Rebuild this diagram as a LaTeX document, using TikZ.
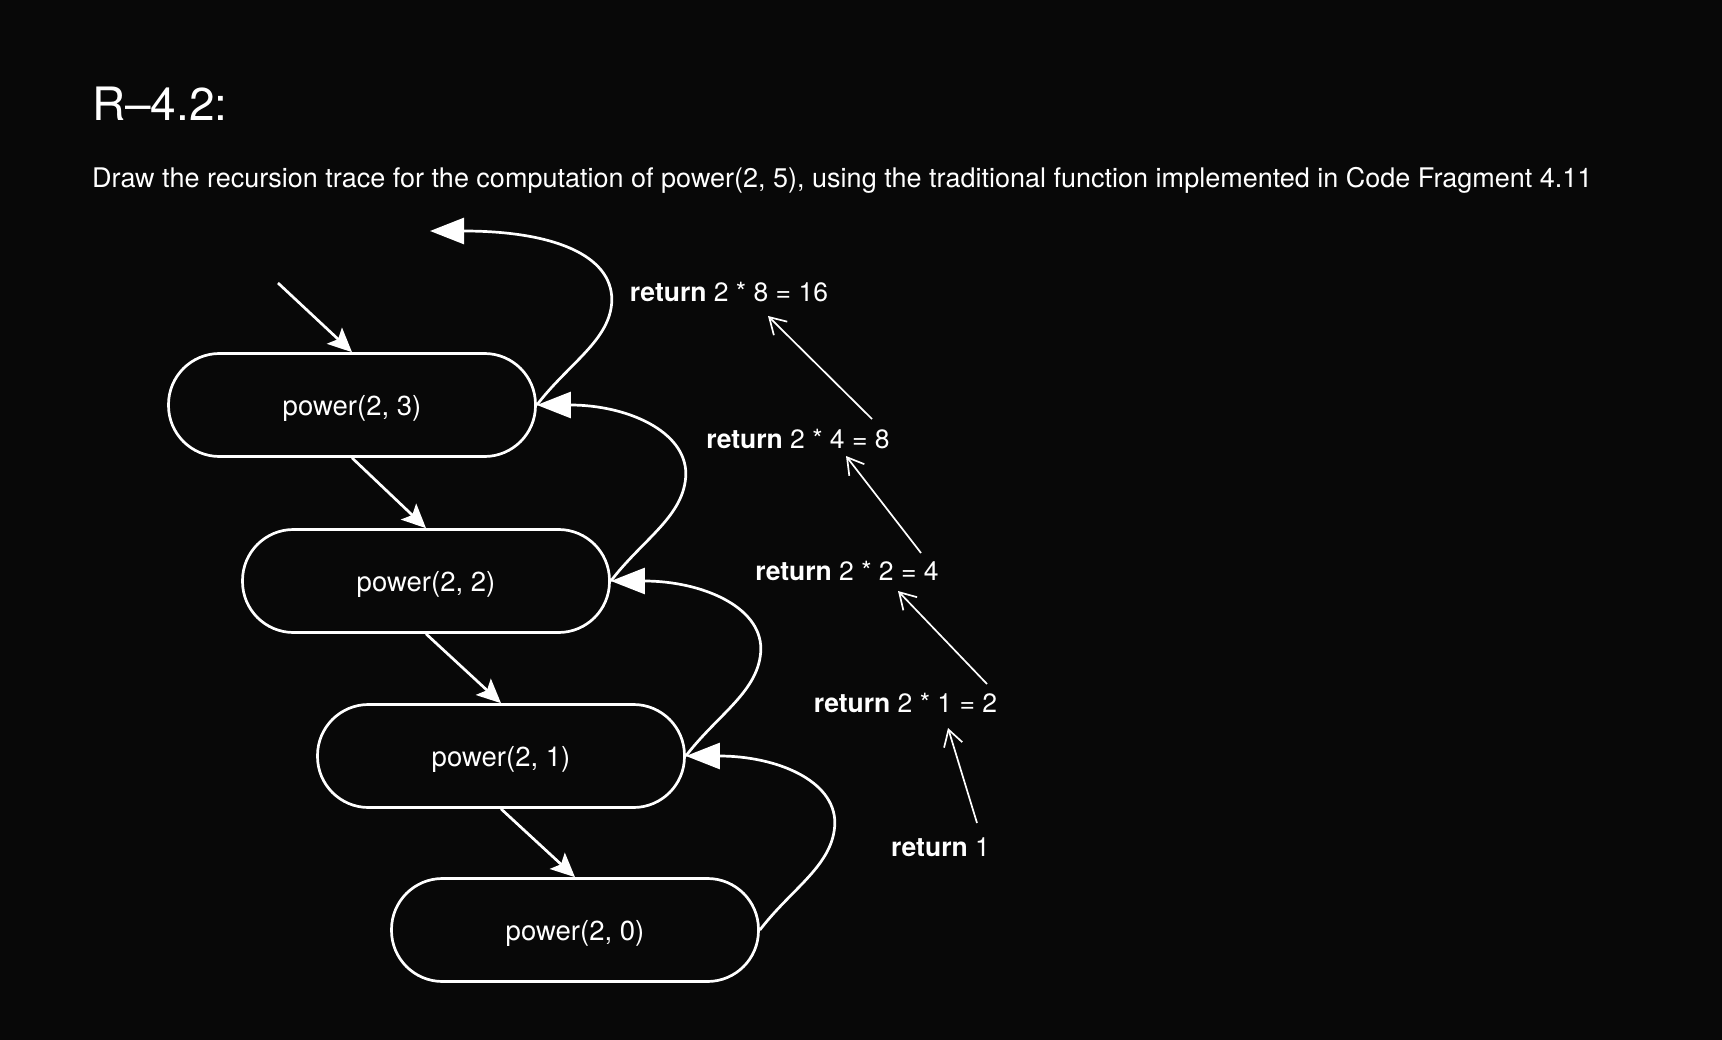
\documentclass[tikz,border=0pt]{standalone}
\usepackage{fontspec}
\setmainfont{TeX Gyre Heros}
\usetikzlibrary{arrows.meta,calc}
\definecolor{bg}{RGB}{8,8,8}
\tikzset{
  callbox/.style={draw=white, line width=2.7pt, rounded corners=51pt,
    minimum width=367pt, minimum height=103pt, text=white, inner sep=0pt,
    text depth=0pt, font=\fontsize{27.5}{31}\selectfont},
  callarrow/.style={draw=white, line width=2.7pt,
    -{Stealth[length=24pt,width=22pt,inset=5pt]}},
  retarrow/.style={draw=white, line width=2.7pt,
    -{Triangle[length=34pt,width=26pt,fill=white]}},
  thinarrow/.style={draw=white, line width=1.7pt,
    -{Straight Barb[length=16pt,width=19pt]}},
  retlabel/.style={text=white, anchor=base, inner sep=0pt,
    font=\fontsize{26.5}{30}\selectfont},
}
\begin{document}
\begin{tikzpicture}[x=1pt,y=-1pt]
\fill[bg] (0,0) rectangle (1722,1040);
\useasboundingbox (0,0) rectangle (1722,1040);

\node[text=white, anchor=base west, inner sep=0pt, font=\fontsize{46}{50}\selectfont] (title) at (92,121) {R–4.2:};
\node[text=white, anchor=base west, inner sep=0pt, font=\fontsize{27}{31}\selectfont] (sub) at (92,188)
  {Draw the recursion trace for the computation of power(2, 5), using the traditional function implemented in Code Fragment 4.11};

\node[callbox] (p3) at (352,405) {power(2, 3)};
\node[callbox] (p2) at (426,581) {power(2, 2)};
\node[callbox] (p1) at (501,756) {power(2, 1)};
\node[callbox] (p0) at (575,930) {power(2, 0)};

\coordinate (start) at (278,283);
\coordinate (topend) at (430,231);

\draw[callarrow] (start) -- (p3.north);
\draw[callarrow] (p3.south) -- (p2.north);
\draw[callarrow] (p2.south) -- (p1.north);
\draw[callarrow] (p1.south) -- (p0.north);

\draw[retarrow] (p0.east) .. controls ($(p0.east)+(32,-42)$) and ($(p0.east)+(74,-65)$) .. ($(p0.east)+(75,-107)$)
  .. controls ($(p0.east)+(75,-150)$) and ($(p1.east)+(90,0)$) .. (p1.east);
\draw[retarrow] (p1.east) .. controls ($(p1.east)+(32,-42)$) and ($(p1.east)+(74,-65)$) .. ($(p1.east)+(75,-107)$)
  .. controls ($(p1.east)+(75,-150)$) and ($(p2.east)+(90,0)$) .. (p2.east);
\draw[retarrow] (p2.east) .. controls ($(p2.east)+(32,-42)$) and ($(p2.east)+(74,-65)$) .. ($(p2.east)+(75,-107)$)
  .. controls ($(p2.east)+(75,-150)$) and ($(p3.east)+(90,0)$) .. (p3.east);
\draw[retarrow] (p3.east) .. controls ($(p3.east)+(32,-42)$) and ($(p3.east)+(74,-65)$) .. ($(p3.east)+(75,-105)$)
  .. controls ($(p3.east)+(75,-150)$) and ($(topend)+(123,0)$) .. (topend);

\node[retlabel] (r5) at (729,302) {\textbf{return} 2 * 8 = 16};
\node[retlabel] (r4) at (798,449) {\textbf{return} 2 * 4 = 8};
\node[retlabel] (r3) at (847,580) {\textbf{return} 2 * 2 = 4};
\node[retlabel] (r2) at (905.5,712) {\textbf{return} 2 * 1 = 2};
\node[retlabel] (r1) at (940.5,856) {\textbf{return} 1};

\draw[thinarrow] ([shift={(36.5,-33)}]r1.base) -- ([shift={(42.5,16)}]r2.base);
\draw[thinarrow] ([shift={(81.5,-28)}]r2.base) -- ([shift={(51,11)}]r3.base);
\draw[thinarrow] ([shift={(74,-27)}]r3.base) -- ([shift={(48,7)}]r4.base);
\draw[thinarrow] ([shift={(74,-30)}]r4.base) -- ([shift={(39,14)}]r5.base);
\end{tikzpicture}
\end{document}
